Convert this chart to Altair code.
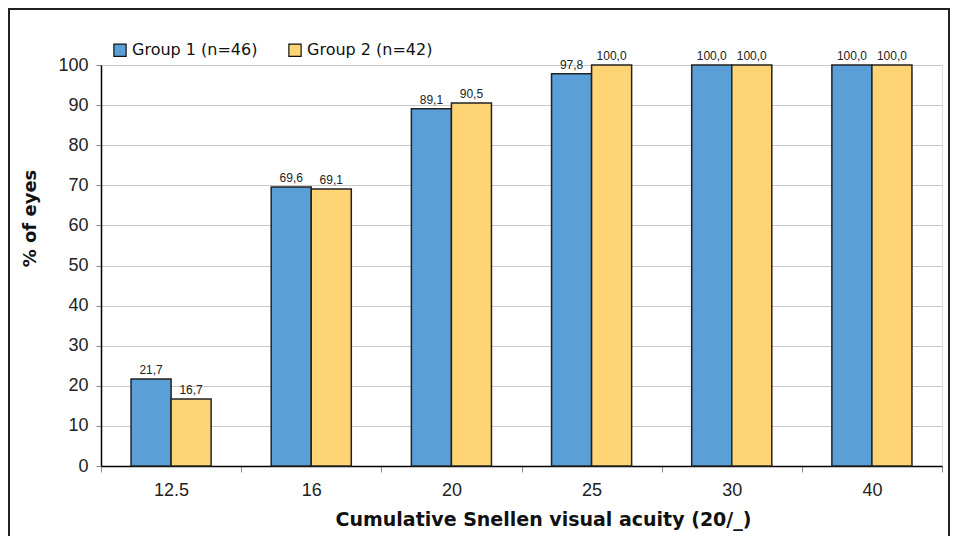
import altair as alt
import pandas as pd

categories = ["12.5", "16", "20", "25", "30", "40"]
group1 = [21.7, 69.6, 89.1, 97.8, 100.0, 100.0]
group2 = [16.7, 69.1, 90.5, 100.0, 100.0, 100.0]
groups = ["Group 1 (n=46)", "Group 2 (n=42)"]
colors = ["#5B9FD9", "#FFD475"]

rows = []
for c, a, b in zip(categories, group1, group2):
    rows.append({"cat": c, "group": groups[0], "value": a})
    rows.append({"cat": c, "group": groups[1], "value": b})
df = pd.DataFrame(rows)

W, H = 841, 401
L, T, R, B = 93, 57, 8, 70

xenc = alt.X("cat:N", sort=categories, title="Cumulative Snellen visual acuity (20/_)",
             scale=alt.Scale(paddingInner=0, paddingOuter=0),
             axis=alt.Axis(labelAngle=0, tickBand="extent", labelFont="Liberation Sans",
                           labelFontSize=18, labelColor="#222", labelPadding=9,
                           tickColor="#888", tickSize=6, domainColor="#000", domainWidth=1.5,
                           titleFont="DejaVu Sans", titleFontWeight="bold", titleFontSize=19,
                           titleColor="#111", titleX=442, titleY=53, titleAlign="center",
                           titleBaseline="middle"))
xoff = alt.XOffset("group:N", sort=groups, scale=alt.Scale(paddingInner=0, paddingOuter=0.75))
yenc = alt.Y("value:Q", title="% of eyes",
             scale=alt.Scale(domain=[0, 100], nice=False),
             axis=alt.Axis(values=list(range(0, 101, 10)), labelFont="Liberation Sans",
                           labelFontSize=18, labelColor="#222", labelPadding=8,
                           tickColor="#888", tickSize=5, domainColor="#000", domainWidth=1.5,
                           gridColor="#c8c8c8", gridWidth=1,
                           titleFont="DejaVu Sans", titleFontWeight="bold", titleFontSize=18,
                           titleColor="#111", titleX=-71, titleY=153, titleAlign="center",
                           titleBaseline="middle", titleAngle=270))

bars = alt.Chart(df).mark_bar(stroke="#222", strokeWidth=1.5).encode(
    x=xenc, xOffset=xoff, y=yenc,
    color=alt.Color("group:N", sort=groups, scale=alt.Scale(domain=groups, range=colors),
                    legend=alt.Legend(title=None, orient="none", legendX=11, legendY=-23,
                                      direction="horizontal", symbolType="square",
                                      symbolSize=150, symbolStrokeColor="#111",
                                      symbolStrokeWidth=1.2, symbolOpacity=1,
                                      labelFont="DejaVu Sans", labelFontSize=16,
                                      labelColor="#111", columnPadding=28, labelOffset=4))
)

labels = alt.Chart(df).transform_calculate(
    lab="replace(format(datum.value, '.1f'), '.', ',')"
).mark_text(dy=-9, font="Liberation Sans", fontSize=12, color="#222").encode(
    x=alt.X("cat:N", sort=categories), xOffset=alt.XOffset("group:N", sort=groups),
    y="value:Q", text="lab:N"
)

frame = alt.Chart(df).mark_rect(fill=None, stroke="#222", strokeWidth=1.5, clip=False).encode(
    x=alt.value(-L + 0.75), x2=alt.value(W + R - 0.75), y=alt.value(-T + 1), y2=alt.value(H + B + 20)
)

chart = alt.layer(bars, labels, frame).properties(
    width=W, height=H,
    autosize=alt.AutoSizeParams(type="none"),
    padding={"left": L, "top": T, "right": R, "bottom": B},
).configure_view(stroke="#000", strokeWidth=1.5).configure(background="white")

chart.save("out.html", embed_options={"renderer": "svg", "actions": False})
